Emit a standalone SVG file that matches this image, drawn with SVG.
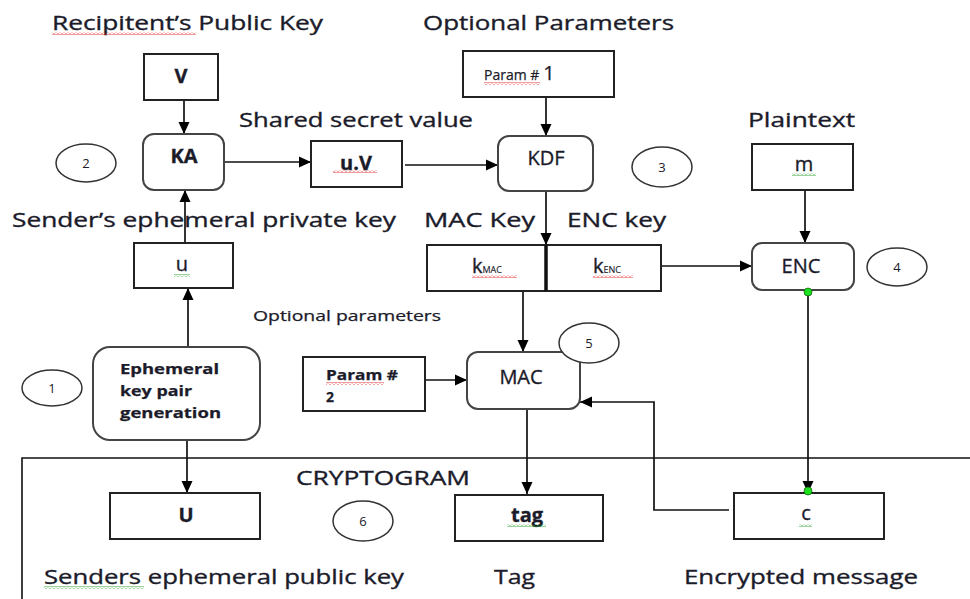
<svg xmlns="http://www.w3.org/2000/svg" width="970" height="599" viewBox="0 0 970 599">
  <style>
    .lbl { font-family: "Open Sans", "Liberation Sans", sans-serif; font-size: 20px; fill: #1b1b2a; stroke: #1b1b2a; stroke-width: 0.35px; }
    .small { font-family: "Open Sans", "Liberation Sans", sans-serif; font-size: 14px; fill: #1b1b2a; stroke: #1b1b2a; stroke-width: 0.25px; }
    .bold { font-weight: bold; }
    .num { font-family: "Open Sans", "Liberation Sans", sans-serif; font-size: 13px; fill: #1b1b2a; text-anchor: middle; }
    .mid { text-anchor: middle; }
    .box { fill: #fff; stroke: #222; stroke-width: 2; }
    .rbox { fill: #fff; stroke: #444; stroke-width: 2; }
    .step { fill: #fff; stroke: #333; stroke-width: 1.5; }
    .wire { fill: none; stroke: #111; stroke-width: 1.7; }
    .dot { fill: #1ee01e; stroke: #0a6a0a; stroke-width: 0.8; }
  </style>
  <defs>
    <marker id="arrow" viewBox="0 0 12 12" refX="12" refY="6" markerWidth="12" markerHeight="12" orient="auto" markerUnits="userSpaceOnUse">
      <path d="M0,0.5 L12,6 L0,11.5 z" fill="#000"/>
    </marker>
    <pattern id="wavy-red" patternUnits="userSpaceOnUse" width="4" height="3">
      <path d="M0,2.5 L2,0.5 L4,2.5" fill="none" stroke="#e02020" stroke-width="0.9"/>
    </pattern>
    <pattern id="wavy-green" patternUnits="userSpaceOnUse" width="4" height="3">
      <path d="M0,2.5 L2,0.5 L4,2.5" fill="none" stroke="#20a020" stroke-width="0.9"/>
    </pattern>
  </defs>

  <!-- cryptogram frame -->
  <path d="M22,599 V458 H970" fill="none" stroke="#111" stroke-width="1.6"/>

  <!-- free labels -->
  <g id="labels">
    <text class="lbl" x="52" y="30" textLength="271" lengthAdjust="spacingAndGlyphs">Recipitent’s Public Key</text>
    <rect x="52" y="32" width="144" height="3" fill="url(#wavy-red)"/>
    <text class="lbl" x="423" y="30" textLength="251" lengthAdjust="spacingAndGlyphs">Optional Parameters</text>
    <text class="lbl" x="239" y="127" textLength="234" lengthAdjust="spacingAndGlyphs">Shared secret value</text>
    <text class="lbl" x="748" y="127" textLength="107" lengthAdjust="spacingAndGlyphs">Plaintext</text>
    <text class="lbl" x="12" y="227" textLength="384" lengthAdjust="spacingAndGlyphs">Sender’s ephemeral private key</text>
    <text class="lbl" x="424" y="227" textLength="111" lengthAdjust="spacingAndGlyphs">MAC Key</text>
    <text class="lbl" x="567" y="227" textLength="99" lengthAdjust="spacingAndGlyphs">ENC key</text>
    <text class="small" x="253" y="321" textLength="188" lengthAdjust="spacingAndGlyphs">Optional parameters</text>
    <text class="lbl" x="296" y="485" textLength="174" lengthAdjust="spacingAndGlyphs">CRYPTOGRAM</text>
    <text class="lbl" x="44" y="584" textLength="360" lengthAdjust="spacingAndGlyphs">Senders ephemeral public key</text>
    <rect x="44" y="586" width="100" height="3" fill="url(#wavy-green)"/>
    <text class="lbl" x="494" y="584" textLength="41" lengthAdjust="spacingAndGlyphs">Tag</text>
    <text class="lbl" x="684" y="584" textLength="234" lengthAdjust="spacingAndGlyphs">Encrypted message</text>
  </g>

  <!-- connectors -->
  <g id="connectors">
    <path class="wire" d="M184,100 V134" marker-end="url(#arrow)"/>
    <path class="wire" d="M185,243 V190" marker-end="url(#arrow)"/>
    <path class="wire" d="M188,347 V288" marker-end="url(#arrow)"/>
    <path class="wire" d="M224,162 H311" marker-end="url(#arrow)"/>
    <path class="wire" d="M405,165 H498" marker-end="url(#arrow)"/>
    <path class="wire" d="M546,97 V136" marker-end="url(#arrow)"/>
    <path class="wire" d="M546,190 V245" marker-end="url(#arrow)"/>
    <path class="wire" d="M657,266 H752" marker-end="url(#arrow)"/>
    <path class="wire" d="M805,190 V243" marker-end="url(#arrow)"/>
    <path class="wire" d="M523,291 V352" marker-end="url(#arrow)"/>
    <path class="wire" d="M421,380 H467" marker-end="url(#arrow)"/>
    <path class="wire" d="M527,410 V494" marker-end="url(#arrow)"/>
    <path class="wire" d="M187,440 V493" marker-end="url(#arrow)"/>
    <path class="wire" d="M808,292 V493" marker-end="url(#arrow)"/>
    <path class="wire" d="M729,510 H654 V402 H580" marker-end="url(#arrow)"/>
  </g>

  <!-- nodes -->
  <g id="node-V">
    <rect class="box" x="144" y="54" width="74" height="46"/>
    <text class="lbl bold mid" x="181" y="83">V</text>
  </g>
  <g id="node-KA">
    <rect class="rbox" x="143" y="134" width="81" height="56" rx="11"/>
    <text class="lbl bold mid" x="184" y="163">KA</text>
  </g>
  <g id="step-2">
    <ellipse class="step" cx="86" cy="163" rx="30" ry="19"/>
    <text class="num" x="86" y="168">2</text>
  </g>
  <g id="node-uV">
    <rect class="box" x="311" y="141" width="91" height="46"/>
    <text class="lbl bold mid" x="356" y="170">u.V</text>
    <rect x="333" y="170" width="44" height="3" fill="url(#wavy-red)"/>
  </g>
  <g id="node-u">
    <rect class="box" x="134" y="243" width="99" height="45"/>
    <text class="lbl mid" x="182" y="271">u</text>
    <rect x="174" y="274" width="16" height="3" fill="url(#wavy-green)"/>
  </g>
  <g id="node-param1">
    <rect class="box" x="463" y="51" width="151" height="46"/>
    <text class="small" x="484" y="80">Param #<tspan font-size="20" dx="4">1</tspan></text>
    <rect x="484" y="82" width="56" height="3" fill="url(#wavy-red)"/>
  </g>
  <g id="node-KDF">
    <rect class="rbox" x="498" y="136" width="95" height="55" rx="11"/>
    <text class="lbl mid" x="546" y="165">KDF</text>
  </g>
  <g id="step-3">
    <ellipse class="step" cx="662" cy="167" rx="30" ry="20"/>
    <text class="num" x="662" y="172">3</text>
  </g>
  <g id="node-keys">
    <rect class="box" x="427" y="245" width="234" height="46"/>
    <line x1="546" y1="245" x2="546" y2="291" stroke="#111" stroke-width="3.5"/>
    <text class="lbl" x="472" y="273">k<tspan font-size="9" stroke-width="0.15">MAC</tspan></text>
    <rect x="472" y="275" width="45" height="3" fill="url(#wavy-red)"/>
    <text class="lbl" x="593" y="273">k<tspan font-size="9" stroke-width="0.15">ENC</tspan></text>
    <rect x="593" y="275" width="40" height="3" fill="url(#wavy-red)"/>
  </g>
  <g id="node-m">
    <rect class="box" x="752" y="144" width="101" height="46"/>
    <text class="lbl mid" x="804" y="171">m</text>
    <rect x="792" y="173" width="24" height="3" fill="url(#wavy-green)"/>
  </g>
  <g id="node-ENC">
    <rect class="rbox" x="752" y="243" width="102" height="47" rx="10"/>
    <text class="lbl mid" x="801" y="273">ENC</text>
    <circle class="dot" cx="808" cy="292" r="4"/>
  </g>
  <g id="step-4">
    <ellipse class="step" cx="897" cy="267" rx="30" ry="19"/>
    <text class="num" x="897" y="272">4</text>
  </g>
  <g id="node-ephemeral">
    <rect class="rbox" x="93" y="347" width="167" height="93" rx="17"/>
    <text class="small bold" x="120" y="374" font-size="15" textLength="99" lengthAdjust="spacingAndGlyphs">Ephemeral</text>
    <text class="small bold" x="120" y="396" font-size="15" textLength="72" lengthAdjust="spacingAndGlyphs">key pair</text>
    <text class="small bold" x="120" y="418" font-size="15" textLength="101" lengthAdjust="spacingAndGlyphs">generation</text>
  </g>
  <g id="step-1">
    <ellipse class="step" cx="52" cy="388" rx="30" ry="18"/>
    <text class="num" x="52" y="393">1</text>
  </g>
  <g id="node-param2">
    <rect class="box" x="303" y="357" width="122" height="54"/>
    <text class="small bold" x="326" y="380" font-size="15" textLength="72" lengthAdjust="spacingAndGlyphs">Param #</text>
    <rect x="326" y="382" width="58" height="3" fill="url(#wavy-red)"/>
    <text class="small bold" x="326" y="402" font-size="15">2</text>
  </g>
  <g id="node-MAC">
    <rect class="rbox" x="467" y="352" width="113" height="57" rx="11"/>
    <text class="lbl mid" x="521" y="384">MAC</text>
  </g>
  <g id="step-5">
    <ellipse class="step" cx="589" cy="343" rx="30" ry="20"/>
    <text class="num" x="589" y="348">5</text>
  </g>
  <g id="node-U">
    <rect class="box" x="110" y="493" width="150" height="46"/>
    <text class="lbl bold mid" x="186" y="522">U</text>
  </g>
  <g id="step-6">
    <ellipse class="step" cx="363" cy="521" rx="30" ry="20"/>
    <text class="num" x="363" y="526">6</text>
  </g>
  <g id="node-tag">
    <rect class="box" x="455" y="495" width="148" height="46"/>
    <text class="lbl bold mid" x="527" y="522">tag</text>
    <rect x="507" y="524" width="39" height="3" fill="url(#wavy-green)"/>
  </g>
  <g id="node-c">
    <rect class="box" x="734" y="493" width="150" height="46"/>
    <text class="lbl mid" x="806" y="520">c</text>
    <rect x="799" y="524" width="13" height="3" fill="url(#wavy-green)"/>
    <circle class="dot" cx="808" cy="491" r="4"/>
  </g>
</svg>
